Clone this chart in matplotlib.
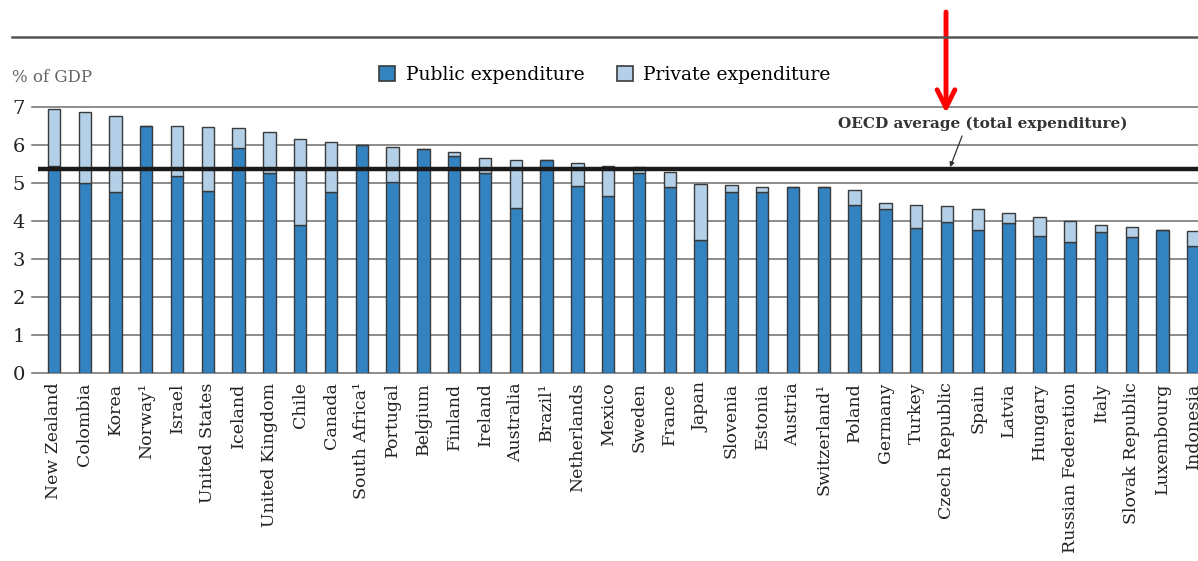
import matplotlib
matplotlib.use("Agg")
import matplotlib.pyplot as plt
from matplotlib.lines import Line2D
from matplotlib.patches import Patch

countries = [
    "New Zealand", "Colombia", "Korea", "Norway¹", "Israel", "United States",
    "Iceland", "United Kingdom", "Chile", "Canada", "South Africa¹", "Portugal",
    "Belgium", "Finland", "Ireland", "Australia", "Brazil¹", "Netherlands",
    "Mexico", "Sweden", "France", "Japan", "Slovenia", "Estonia", "Austria",
    "Switzerland¹", "Poland", "Germany", "Turkey", "Czech Republic", "Spain",
    "Latvia", "Hungary", "Russian Federation", "Italy", "Slovak Republic",
    "Luxembourg", "Indonesia",
]
total = [
    6.93, 6.87, 6.76, 6.49, 6.49, 6.46, 6.43, 6.33, 6.16, 6.06, 5.99, 5.95,
    5.89, 5.82, 5.65, 5.61, 5.61, 5.51, 5.45, 5.40, 5.28, 4.97, 4.94, 4.88,
    4.88, 4.88, 4.82, 4.47, 4.40, 4.40, 4.31, 4.20, 4.11, 3.99, 3.90, 3.83,
    3.76, 3.73,
]
public = [
    5.45, 4.98, 4.75, 6.49, 5.18, 4.78, 5.92, 5.25, 3.90, 4.75, 5.99, 5.01,
    5.89, 5.71, 5.25, 4.34, 5.61, 4.91, 4.65, 5.25, 4.89, 3.49, 4.75, 4.75,
    4.88, 4.88, 4.41, 4.31, 3.80, 3.96, 3.76, 3.93, 3.60, 3.43, 3.70, 3.57,
    3.76, 3.33,
]
private = [t - p for t, p in zip(total, public)]
oecd_avg = 5.35

PUB_C, PRIV_C, EDGE_C = "#3483c1", "#b3d0e8", "#3a3a3a"
GRID_C = "#6e6e6e"
plt.rcParams.update({"font.family": "DejaVu Serif"})

W, H = 1198, 561
fig = plt.figure(figsize=(W / 100, H / 100), dpi=100)
ax = fig.add_axes([32 / W, 1 - 372.7 / H, 1 - 32 / W, 266 / H])

x = list(range(len(countries)))
for yv in range(0, 8):
    ax.axhline(yv, color=GRID_C, lw=1.1, zorder=0, clip_on=False)
ax.bar(x, public, width=0.4, color=PUB_C, edgecolor=EDGE_C, linewidth=1.0, zorder=2)
ax.bar(x, private, width=0.4, bottom=public, color=PRIV_C, edgecolor=EDGE_C,
       linewidth=1.0, zorder=2)
ax.hlines(oecd_avg, -0.52, 40, color="#1a1a1a", lw=3.2, zorder=3)

ax.set_xlim(-0.71, 37.15)
ax.set_ylim(0, 7)
for s in ax.spines.values():
    s.set_visible(False)
ax.set_yticks(range(0, 8))
ax.tick_params(axis="y", length=0, pad=5, labelsize=14, labelcolor="#222222")
ax.set_xticks(x)
ax.set_xticklabels(countries, rotation=90, fontsize=12.5, color="#222222")
ax.tick_params(axis="x", length=0, pad=7)

# label and its pointer to the average line
ax.text(30.17, 6.54, "OECD average (total expenditure)", fontsize=11,
        fontweight="bold", color="#333333", ha="center", va="center")
ax.annotate("", xy=(29.10, oecd_avg + 0.06), xytext=(29.49, 6.23),
            arrowprops=dict(arrowstyle="-|>", color="#333333", lw=0.9,
                            mutation_scale=7, shrinkA=0, shrinkB=0))

fig.text(12 / W, 1 - 78 / H, "% of GDP", fontsize=12, color="#666666",
         ha="left", va="center")

handles = [Patch(facecolor=PUB_C, edgecolor=EDGE_C, lw=1.2),
           Patch(facecolor=PRIV_C, edgecolor=EDGE_C, lw=1.2)]
fig.legend(handles, ["Public expenditure", "Private expenditure"],
           loc="center", bbox_to_anchor=(605 / W, 1 - 75 / H), ncol=2,
           frameon=False, fontsize=13.5, handlelength=0.85, handleheight=0.85,
           handletextpad=0.55, columnspacing=1.75)

fig.add_artist(Line2D([12 / W, 1.0], [1 - 37 / H, 1 - 37 / H],
                      color="#555555", lw=1.8, transform=fig.transFigure))
ax.annotate("", xy=(946 / W, 1 - 113 / H), xytext=(946 / W, 1 - 12 / H),
            xycoords="figure fraction", textcoords="figure fraction",
            arrowprops=dict(arrowstyle="->", color="#ff0000", lw=3.5,
                            mutation_scale=32, shrinkA=0, shrinkB=0))

fig.savefig("out.png", dpi=100)
